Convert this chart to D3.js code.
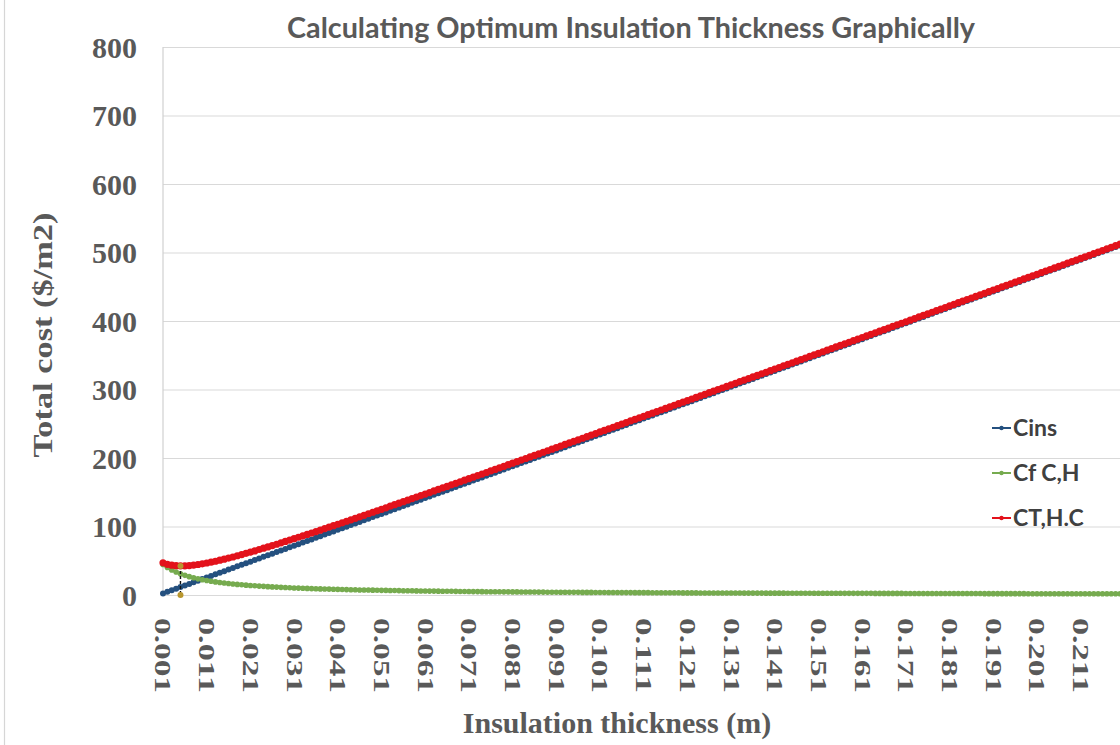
<!DOCTYPE html>
<html>
<head>
<meta charset="utf-8">
<script src="https://cdn.jsdelivr.net/npm/d3@7"></script>
<style>
  body { margin: 0; background: #fff; }
  svg { display: block; }
</style>
</head>
<body>
<div id="chart"></div>
<script>
// thickness categories (m)
const categories = [
  0.001,0.002,0.003,0.004,0.005,0.006,0.007,0.008,0.009,0.010,
  0.011,0.012,0.013,0.014,0.015,0.016,0.017,0.018,0.019,0.020,
  0.021,0.022,0.023,0.024,0.025,0.026,0.027,0.028,0.029,0.030,
  0.031,0.032,0.033,0.034,0.035,0.036,0.037,0.038,0.039,0.040,
  0.041,0.042,0.043,0.044,0.045,0.046,0.047,0.048,0.049,0.050,
  0.051,0.052,0.053,0.054,0.055,0.056,0.057,0.058,0.059,0.060,
  0.061,0.062,0.063,0.064,0.065,0.066,0.067,0.068,0.069,0.070,
  0.071,0.072,0.073,0.074,0.075,0.076,0.077,0.078,0.079,0.080,
  0.081,0.082,0.083,0.084,0.085,0.086,0.087,0.088,0.089,0.090,
  0.091,0.092,0.093,0.094,0.095,0.096,0.097,0.098,0.099,0.100,
  0.101,0.102,0.103,0.104,0.105,0.106,0.107,0.108,0.109,0.110,
  0.111,0.112,0.113,0.114,0.115,0.116,0.117,0.118,0.119,0.120,
  0.121,0.122,0.123,0.124,0.125,0.126,0.127,0.128,0.129,0.130,
  0.131,0.132,0.133,0.134,0.135,0.136,0.137,0.138,0.139,0.140,
  0.141,0.142,0.143,0.144,0.145,0.146,0.147,0.148,0.149,0.150,
  0.151,0.152,0.153,0.154,0.155,0.156,0.157,0.158,0.159,0.160,
  0.161,0.162,0.163,0.164,0.165,0.166,0.167,0.168,0.169,0.170,
  0.171,0.172,0.173,0.174,0.175,0.176,0.177,0.178,0.179,0.180,
  0.181,0.182,0.183,0.184,0.185,0.186,0.187,0.188,0.189,0.190,
  0.191,0.192,0.193,0.194,0.195,0.196,0.197,0.198,0.199,0.200,
  0.201,0.202,0.203,0.204,0.205,0.206,0.207,0.208,0.209,0.210,
  0.211,0.212,0.213,0.214,0.215,0.216,0.217,0.218,0.219,0.220
];

// insulation cost
const cins = [
  2.3, 4.6, 7.0, 9.3, 11.6, 13.9, 16.2, 18.6, 20.9,
  23.2, 25.5, 27.8, 30.2, 32.5, 34.8, 37.1, 39.4, 41.8, 44.1,
  46.4, 48.7, 51.0, 53.4, 55.7, 58.0, 60.3, 62.6, 65.0, 67.3,
  69.6, 71.9, 74.2, 76.6, 78.9, 81.2, 83.5, 85.8, 88.2, 90.5,
  92.8, 95.1, 97.4, 99.8, 102.1, 104.4, 106.7, 109.0, 111.4, 113.7,
  116.0, 118.3, 120.6, 123.0, 125.3, 127.6, 129.9, 132.2, 134.6, 136.9,
  139.2, 141.5, 143.8, 146.2, 148.5, 150.8, 153.1, 155.4, 157.8, 160.1,
  162.4, 164.7, 167.0, 169.4, 171.7, 174.0, 176.3, 178.6, 181.0, 183.3,
  185.6, 187.9, 190.2, 192.6, 194.9, 197.2, 199.5, 201.8, 204.2, 206.5,
  208.8, 211.1, 213.4, 215.8, 218.1, 220.4, 222.7, 225.0, 227.4, 229.7,
  232.0, 234.3, 236.6, 239.0, 241.3, 243.6, 245.9, 248.2, 250.6, 252.9,
  255.2, 257.5, 259.8, 262.2, 264.5, 266.8, 269.1, 271.4, 273.8, 276.1,
  278.4, 280.7, 283.0, 285.4, 287.7, 290.0, 292.3, 294.6, 297.0, 299.3,
  301.6, 303.9, 306.2, 308.6, 310.9, 313.2, 315.5, 317.8, 320.2, 322.5,
  324.8, 327.1, 329.4, 331.8, 334.1, 336.4, 338.7, 341.0, 343.4, 345.7,
  348.0, 350.3, 352.6, 355.0, 357.3, 359.6, 361.9, 364.2, 366.6, 368.9,
  371.2, 373.5, 375.8, 378.2, 380.5, 382.8, 385.1, 387.4, 389.8, 392.1,
  394.4, 396.7, 399.0, 401.4, 403.7, 406.0, 408.3, 410.6, 413.0, 415.3,
  417.6, 419.9, 422.2, 424.6, 426.9, 429.2, 431.5, 433.8, 436.2, 438.5,
  440.8, 443.1, 445.4, 447.8, 450.1, 452.4, 454.7, 457.0, 459.4, 461.7,
  464.0, 466.3, 468.6, 471.0, 473.3, 475.6, 477.9, 480.2, 482.6, 484.9,
  487.2, 489.5, 491.8, 494.2, 496.5, 498.8, 501.1, 503.4, 505.8, 508.1,
  510.4
];

// fuel cost (heating + cooling)
const cfch = [
  44.7, 40.2, 36.5, 33.5, 30.9, 28.7, 26.8, 25.1, 23.6,
  22.3, 21.2, 20.1, 19.1, 18.3, 17.5, 16.8, 16.1, 15.5, 14.9,
  14.4, 13.9, 13.4, 13.0, 12.6, 12.2, 11.8, 11.5, 11.2, 10.9,
  10.6, 10.3, 10.1, 9.8, 9.6, 9.3, 9.1, 8.9, 8.7, 8.6,
  8.4, 8.2, 8.0, 7.9, 7.7, 7.6, 7.4, 7.3, 7.2, 7.1,
  6.9, 6.8, 6.7, 6.6, 6.5, 6.4, 6.3, 6.2, 6.1, 6.0,
  5.9, 5.8, 5.7, 5.7, 5.6, 5.5, 5.4, 5.4, 5.3, 5.2,
  5.2, 5.1, 5.0, 5.0, 4.9, 4.8, 4.8, 4.7, 4.7, 4.6,
  4.6, 4.5, 4.5, 4.4, 4.4, 4.3, 4.3, 4.2, 4.2, 4.1,
  4.1, 4.1, 4.0, 4.0, 3.9, 3.9, 3.9, 3.8, 3.8, 3.8,
  3.7, 3.7, 3.7, 3.6, 3.6, 3.6, 3.5, 3.5, 3.5, 3.4,
  3.4, 3.4, 3.4, 3.3, 3.3, 3.3, 3.2, 3.2, 3.2, 3.2,
  3.1, 3.1, 3.1, 3.1, 3.0, 3.0, 3.0, 3.0, 3.0, 2.9,
  2.9, 2.9, 2.9, 2.9, 2.8, 2.8, 2.8, 2.8, 2.8, 2.7,
  2.7, 2.7, 2.7, 2.7, 2.6, 2.6, 2.6, 2.6, 2.6, 2.6,
  2.5, 2.5, 2.5, 2.5, 2.5, 2.5, 2.5, 2.4, 2.4, 2.4,
  2.4, 2.4, 2.4, 2.4, 2.3, 2.3, 2.3, 2.3, 2.3, 2.3,
  2.3, 2.2, 2.2, 2.2, 2.2, 2.2, 2.2, 2.2, 2.2, 2.1,
  2.1, 2.1, 2.1, 2.1, 2.1, 2.1, 2.1, 2.1, 2.1, 2.0,
  2.0, 2.0, 2.0, 2.0, 2.0, 2.0, 2.0, 2.0, 2.0, 1.9,
  1.9, 1.9, 1.9, 1.9, 1.9, 1.9, 1.9, 1.9, 1.9, 1.9,
  1.8, 1.8, 1.8, 1.8, 1.8, 1.8, 1.8, 1.8, 1.8, 1.8,
  1.8
];

// total cost
const cthc = [
  47.0, 44.8, 43.5, 42.8, 42.5, 42.6, 43.0, 43.7, 44.5,
  45.5, 46.7, 47.9, 49.3, 50.8, 52.3, 53.9, 55.5, 57.3, 59.0,
  60.8, 62.6, 64.4, 66.4, 68.3, 70.2, 72.1, 74.1, 76.2, 78.2,
  80.2, 82.2, 84.3, 86.4, 88.5, 90.5, 92.6, 94.7, 96.9, 99.1,
  101.2, 103.3, 105.4, 107.7, 109.8, 112.0, 114.1, 116.3, 118.6, 120.8,
  122.9, 125.1, 127.3, 129.6, 131.8, 134.0, 136.2, 138.4, 140.7, 142.9,
  145.1, 147.3, 149.5, 151.9, 154.1, 156.3, 158.5, 160.8, 163.1, 165.3,
  167.6, 169.8, 172.0, 174.4, 176.6, 178.8, 181.1, 183.3, 185.7, 187.9,
  190.2, 192.4, 194.7, 197.0, 199.3, 201.5, 203.8, 206.0, 208.4, 210.6,
  212.9, 215.2, 217.4, 219.8, 222.0, 224.3, 226.6, 228.8, 231.2, 233.5,
  235.7, 238.0, 240.3, 242.6, 244.9, 247.2, 249.4, 251.7, 254.1, 256.3,
  258.6, 260.9, 263.2, 265.5, 267.8, 270.1, 272.3, 274.6, 277.0, 279.3,
  281.5, 283.8, 286.1, 288.5, 290.7, 293.0, 295.3, 297.6, 300.0, 302.2,
  304.5, 306.8, 309.1, 311.5, 313.7, 316.0, 318.3, 320.6, 323.0, 325.2,
  327.5, 329.8, 332.1, 334.5, 336.7, 339.0, 341.3, 343.6, 346.0, 348.3,
  350.5, 352.8, 355.1, 357.5, 359.8, 362.1, 364.4, 366.6, 369.0, 371.3,
  373.6, 375.9, 378.2, 380.6, 382.8, 385.1, 387.4, 389.7, 392.1, 394.4,
  396.7, 398.9, 401.2, 403.6, 405.9, 408.2, 410.5, 412.8, 415.2, 417.4,
  419.7, 422.0, 424.3, 426.7, 429.0, 431.3, 433.6, 435.9, 438.3, 440.5,
  442.8, 445.1, 447.4, 449.8, 452.1, 454.4, 456.7, 459.0, 461.4, 463.6,
  465.9, 468.2, 470.5, 472.9, 475.2, 477.5, 479.8, 482.1, 484.5, 486.8,
  489.0, 491.3, 493.6, 496.0, 498.3, 500.6, 502.9, 505.2, 507.6, 509.9,
  512.2
];

// optimum marker (drop line)
const optCategory = 0.005;
const optValues = [42.5, 0];

const yTicks = [0, 100, 200, 300, 400, 500, 600, 700, 800];
const xTickLabels = ["0.001","0.011","0.021","0.031","0.041","0.051","0.061","0.071",
  "0.081","0.091","0.101","0.111","0.121","0.131","0.141","0.151","0.161","0.171",
  "0.181","0.191","0.201","0.211"];

const seriesNames = ["Cins", "Cf C,H", "CT,H.C"];
const colors = { "Cins": "#24507f", "Cf C,H": "#76ab4f", "CT,H.C": "#e3121b" };
const widths = { "Cins": 3, "Cf C,H": 2.8, "CT,H.C": 3.6 };

const W = 1120, H = 745;
const plotLeft = 163, plotTop = 47, plotBottom = 595, plotRight = 1120;

const svg = d3.select("#chart").append("svg")
    .attr("width", W)
    .attr("height", H);

svg.append("rect").attr("width", W).attr("height", H).attr("fill", "#fff");

// thin chart border on the left edge
svg.append("line")
    .attr("x1", 4.5).attr("x2", 4.5).attr("y1", 0).attr("y2", H)
    .attr("stroke", "#d6d6d6").attr("stroke-width", 1.2);

const x = d3.scalePoint()
    .domain(categories)
    .range([plotLeft, plotRight]);

const y = d3.scaleLinear()
    .domain([0, 800])
    .range([plotBottom, plotTop]);

// gridlines
svg.append("g")
    .attr("transform", `translate(${plotLeft},0)`)
    .call(d3.axisLeft(y).tickValues(yTicks).tickSize(-(W - plotLeft)).tickFormat(""))
    .call(g => g.select(".domain").remove())
    .call(g => g.selectAll("line").attr("stroke", "#d9d9d9").attr("stroke-width", 1.2));

svg.append("line")
    .attr("x1", plotLeft).attr("x2", plotLeft).attr("y1", y(800)).attr("y2", y(0))
    .attr("stroke", "#d0d0d0").attr("stroke-width", 1.2);

// y axis labels
svg.append("g")
    .attr("transform", `translate(${plotLeft},0)`)
    .call(d3.axisLeft(y).tickValues(yTicks).tickSize(0).tickPadding(26))
    .call(g => g.select(".domain").remove())
    .selectAll("text")
    .attr("dy", "0.34em")
    .style("font-family", "'Liberation Serif', serif")
    .style("font-weight", "bold")
    .style("font-size", "30px")
    .style("fill", "#595959");

// x axis labels, rotated
svg.append("g")
    .attr("transform", `translate(0,${plotBottom})`)
    .call(d3.axisBottom(x).tickValues(xTickLabels.map(Number)).tickSize(0)
        .tickFormat((d, i) => xTickLabels[i]))
    .call(g => g.select(".domain").remove())
    .selectAll("text")
    .attr("transform", "rotate(90)")
    .attr("x", 23)
    .attr("y", 0)
    .attr("dy", "0.35em")
    .attr("text-anchor", "start")
    .attr("textLength", 75)
    .attr("lengthAdjust", "spacingAndGlyphs")
    .style("font-family", "'Liberation Serif', serif")
    .style("font-weight", "bold")
    .style("font-size", "23px")
    .style("fill", "#595959");

// series
const seriesData = {
  "Cins": categories.map((c, i) => ({ cat: c, v: cins[i] })),
  "Cf C,H": categories.map((c, i) => ({ cat: c, v: cfch[i] })),
  "CT,H.C": categories.map((c, i) => ({ cat: c, v: cthc[i] }))
};

const line = d3.line()
    .x(d => x(d.cat))
    .y(d => y(d.v));

seriesNames.forEach(name => {
  const g = svg.append("g");
  g.append("path")
      .datum(seriesData[name])
      .attr("fill", "none")
      .attr("stroke", colors[name])
      .attr("stroke-width", widths[name])
      .attr("d", line);
  g.selectAll("circle")
      .data(seriesData[name])
      .enter()
      .append("circle")
      .attr("cx", d => x(d.cat))
      .attr("cy", d => y(d.v))
      .attr("r", widths[name])
      .attr("fill", colors[name]);
});

// optimum drop line
svg.append("line")
    .attr("x1", x(optCategory)).attr("x2", x(optCategory))
    .attr("y1", y(optValues[0])).attr("y2", y(optValues[1]))
    .attr("stroke", "#111").attr("stroke-width", 1.4)
    .attr("stroke-dasharray", "3,2");

svg.selectAll(".opt")
    .data(optValues)
    .enter()
    .append("circle")
    .attr("class", "opt")
    .attr("cx", x(optCategory))
    .attr("cy", d => y(d))
    .attr("r", 3)
    .attr("fill", "#b8962e");

// legend
const legend = svg.append("g")
    .selectAll("g")
    .data(seriesNames)
    .enter()
    .append("g")
    .attr("transform", (d, i) => `translate(992,${428 + i * 45})`);

legend.append("line")
    .attr("x1", 0).attr("x2", 19)
    .attr("stroke", d => colors[d]).attr("stroke-width", 2);

legend.append("circle")
    .attr("cx", 9.5).attr("r", 2.2)
    .attr("fill", d => colors[d]);

legend.append("text")
    .attr("x", 21)
    .attr("dy", "0.36em")
    .text(d => d)
    .style("font-family", "Lato, sans-serif")
    .style("font-weight", "bold")
    .style("font-size", "23px")
    .style("fill", "#404040");

// titles
svg.append("text")
    .attr("x", 631)
    .attr("y", 38)
    .attr("text-anchor", "middle")
    .attr("textLength", 688)
    .attr("lengthAdjust", "spacingAndGlyphs")
    .text("Calculating Optimum Insulation Thickness Graphically")
    .style("font-family", "Lato, sans-serif")
    .style("font-weight", "bold")
    .style("font-size", "29px")
    .style("fill", "#595959");

svg.append("text")
    .attr("x", 617)
    .attr("y", 733)
    .attr("text-anchor", "middle")
    .text("Insulation thickness (m)")
    .style("font-family", "'Liberation Serif', serif")
    .style("font-weight", "bold")
    .style("font-size", "30px")
    .style("fill", "#595959");

svg.append("text")
    .attr("transform", "translate(52,335) rotate(-90)")
    .attr("text-anchor", "middle")
    .attr("textLength", 245)
    .attr("lengthAdjust", "spacingAndGlyphs")
    .text("Total cost ($/m2)")
    .style("font-family", "'Liberation Serif', serif")
    .style("font-weight", "bold")
    .style("font-size", "27px")
    .style("fill", "#595959");
</script>
</body>
</html>
